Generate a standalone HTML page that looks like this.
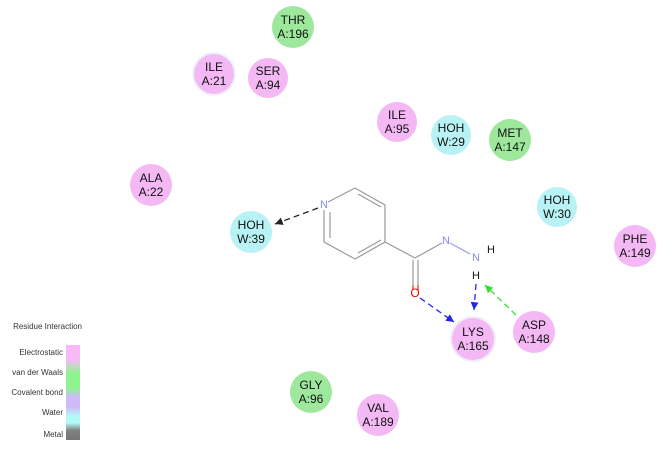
<!DOCTYPE html>
<html><head><style>
body{margin:0;background:#fff;width:663px;height:444px;overflow:hidden}
svg text{font-family:"Liberation Sans",sans-serif}
</style></head><body>
<svg width="663" height="444" viewBox="0 0 663 444">
<defs>
<linearGradient id="lg" x1="0" y1="0" x2="0" y2="1">
<stop offset="0" stop-color="#f9b9f9"/><stop offset="0.15" stop-color="#f9b9f9"/>
<stop offset="0.3" stop-color="#8ef58e"/><stop offset="0.45" stop-color="#8ef58e"/>
<stop offset="0.55" stop-color="#cfb9f9"/><stop offset="0.65" stop-color="#cfb9f9"/>
<stop offset="0.75" stop-color="#b3f9f9"/><stop offset="0.82" stop-color="#b3f9f9"/>
<stop offset="0.9" stop-color="#808080"/><stop offset="1" stop-color="#777"/>
</linearGradient>
<marker id="ak" markerWidth="8" markerHeight="8" refX="6" refY="3" orient="auto"><path d="M0,0L6,3L0,6z" fill="#222"/></marker>
<marker id="ab" markerWidth="8" markerHeight="8" refX="6" refY="3" orient="auto"><path d="M0,0L6,3L0,6z" fill="#2222ee"/></marker>
<marker id="ag" markerWidth="8" markerHeight="8" refX="6" refY="3" orient="auto"><path d="M0,0L6,3L0,6z" fill="#33dd33"/></marker>
</defs>
<g font-size="12" text-anchor="middle" fill="#111">
<circle cx="293" cy="27" r="21" fill="#9ee89e"/><text x="293" y="24">THR</text><text x="293" y="38">A:196</text>
<circle cx="214" cy="74" r="22" fill="#eef2fb"/><circle cx="214" cy="74" r="20" fill="#f4b8f4"/><text x="214" y="71">ILE</text><text x="214" y="85">A:21</text>
<circle cx="268" cy="78" r="20" fill="#f4b8f4"/><text x="268" y="75">SER</text><text x="268" y="89">A:94</text>
<circle cx="397" cy="122" r="20" fill="#f4b8f4"/><text x="397" y="119">ILE</text><text x="397" y="133">A:95</text>
<circle cx="451" cy="135" r="20" fill="#b8f2f4"/><text x="451" y="132">HOH</text><text x="451" y="146">W:29</text>
<circle cx="510" cy="140" r="21" fill="#9ee89e"/><text x="510" y="137">MET</text><text x="510" y="151">A:147</text>
<circle cx="151" cy="185" r="21" fill="#f4b8f4"/><text x="151" y="182">ALA</text><text x="151" y="196">A:22</text>
<circle cx="557" cy="207" r="20" fill="#b8f2f4"/><text x="557" y="204">HOH</text><text x="557" y="218">W:30</text>
<circle cx="251" cy="232" r="21" fill="#b8f2f4"/><text x="251" y="229">HOH</text><text x="251" y="243">W:39</text>
<circle cx="635" cy="246" r="21" fill="#f4b8f4"/><text x="635" y="243">PHE</text><text x="635" y="257">A:149</text>
<circle cx="473" cy="339" r="23" fill="#f0eef8"/><circle cx="473" cy="339" r="21" fill="#f4b8f4"/><text x="473" y="336">LYS</text><text x="473" y="350">A:165</text>
<circle cx="534" cy="332" r="21" fill="#f4b8f4"/><text x="534" y="329">ASP</text><text x="534" y="343">A:148</text>
<circle cx="311" cy="392" r="21" fill="#9ee89e"/><text x="311" y="389">GLY</text><text x="311" y="403">A:96</text>
<circle cx="378" cy="415" r="21" fill="#f4b8f4"/><text x="378" y="412">VAL</text><text x="378" y="426">A:189</text>
</g>
<g stroke="#999" stroke-width="1.2" fill="none">
<path d="M328,202L355,188L385,205L385,242L355,259L324,242L324,210"/>
<path d="M330,238L330,212M358,194L381,207M381,240L358,253"/>
<path d="M385,242L415,258L442,243"/>
<path d="M413,260L413,285M418,260L418,285"/>
</g>
<g stroke="#9999ee" stroke-width="1.2"><path d="M450,243L470,254"/><path d="M413,285L413,290M418,285L418,290" stroke="#e22"/></g>
<g font-size="11" fill="#8888ee" text-anchor="middle"><text x="324" y="208">N</text><text x="446" y="244">N</text><text x="476" y="261">N</text></g>
<text x="415" y="297" font-size="12" fill="#e00" text-anchor="middle" font-family="Liberation Sans">O</text>
<g font-size="11" fill="#111" text-anchor="middle"><text x="491" y="253">H</text><text x="476" y="279">H</text></g>
<g stroke-dasharray="6,4" stroke-width="1.3" fill="none">
<path d="M318,208L275,224" stroke="#222" marker-end="url(#ak)"/>
<path d="M420,298L454,322" stroke="#2222ee" marker-end="url(#ab)"/>
<path d="M476,284L474,310" stroke="#2222ee" marker-end="url(#ab)"/>
<path d="M516,315L485,285" stroke="#33dd33" marker-end="url(#ag)"/>
</g>
<g font-size="8" fill="#333" text-anchor="end">
<text x="82" y="329">Residue Interaction</text>
<text x="63" y="355">Electrostatic</text>
<text x="63" y="375">van der Waals</text>
<text x="63" y="395">Covalent bond</text>
<text x="63" y="415">Water</text>
<text x="63" y="437">Metal</text>
</g>
<rect x="66" y="345" width="14" height="95" fill="url(#lg)"/>
</svg>
</body></html>
